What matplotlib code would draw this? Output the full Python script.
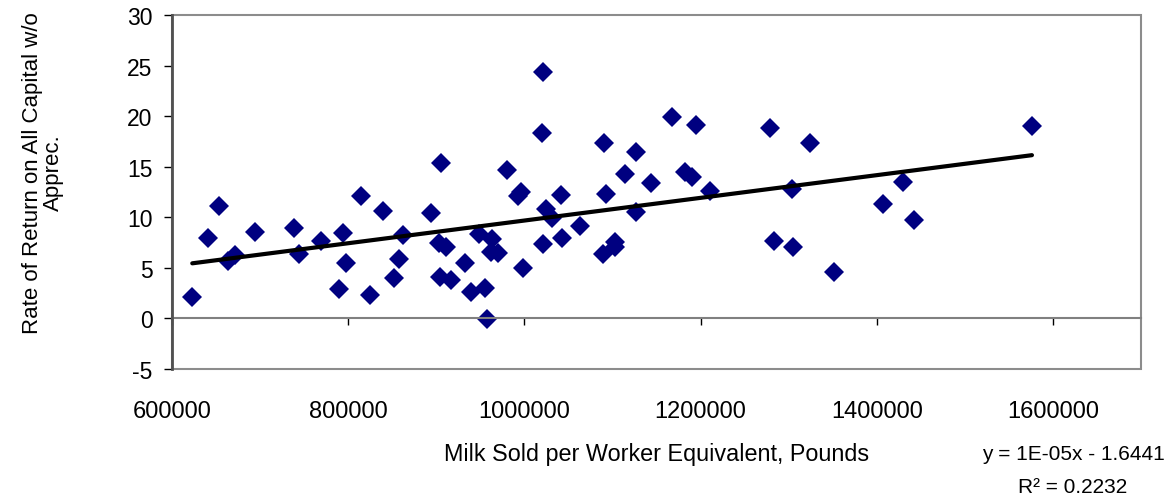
import numpy as np
from matplotlib import pyplot as plt
from matplotlib.patches import Rectangle

plt.rcParams['font.family'] = ['Liberation Sans', 'DejaVu Sans']
plt.rcParams['axes.unicode_minus'] = False

# milk sold per worker equivalent (lbs) and rate of return (%)
milk = [623000, 640800, 653600, 663100, 671400, 693800, 738400, 744100,
        768700, 794000, 797400, 789500, 814800, 825000, 839000, 851500,
        857400, 861700, 893500, 904900, 902900, 910900, 903700, 916200,
        932800, 939200, 948700, 955100, 957400, 962800, 961600, 969600,
        980100, 993000, 995700, 998300, 1020600, 1019500, 1024000, 1031200,
        1021700, 1041800, 1042500, 1062900, 1090200, 1092800, 1088700, 1102700,
        1102700, 1114800, 1127200, 1127200, 1144300, 1167300, 1182100, 1190800,
        1194900, 1210800, 1279300, 1303500, 1283100, 1304600, 1324700, 1351500,
        1407100, 1429800, 1441900, 1576200]
ror = [2.14, 7.94, 11.1, 5.63, 6.26, 8.53, 8.96, 6.39,
       7.68, 8.47, 5.44, 2.93, 12.06, 2.34, 10.61, 3.95,
       5.9, 8.27, 10.41, 15.36, 7.48, 7.02, 4.05, 3.79,
       5.5, 2.63, 8.37, 2.97, -0.1, 7.84, 6.59, 6.49,
       14.66, 12.12, 12.52, 4.97, 24.38, 18.32, 10.81, 9.92,
       7.38, 12.22, 7.97, 9.16, 17.36, 12.32, 6.33, 7.51,
       7.02, 14.27, 16.41, 10.48, 13.35, 19.93, 14.43, 14.0,
       19.11, 12.62, 18.82, 12.75, 7.64, 7.08, 17.30, 4.55,
       11.3, 13.51, 9.75, 19.05]

xticks = [600000, 800000, 1000000, 1200000, 1400000, 1600000]
yticks = [-5, 0, 5, 10, 15, 20, 25, 30]

x = np.array(milk, float)
y = np.array(ror, float)

fig = plt.figure(figsize=(11.72, 5.02), dpi=100)
ax = fig.add_axes([172/1172, 132/502, 969/1172, 354/502])

ax.plot(x, y, 'D', color='#000080', markersize=10, markeredgewidth=0)

# linear trendline
b, a = np.polyfit(x, y, 1)
tx = np.array([x.min(), x.max()])
ax.plot(tx, b*tx + a, color='black', linewidth=3, solid_capstyle='round')

ax.set_xlim(600000, 1700000)
ax.set_ylim(-5, 30)
ax.set_xticks(xticks)
ax.set_yticks(yticks)
ax.set_xticklabels([str(t) for t in xticks])

for s in ['top', 'right']:
    ax.spines[s].set_visible(False)
ax.spines['bottom'].set_position(('data', 0))
ax.spines['bottom'].set_color('#808080')
ax.spines['bottom'].set_linewidth(1.5)
ax.spines['left'].set_color('#505050')
ax.spines['left'].set_linewidth(2)
ax.spines['left'].set_zorder(5)
ax.add_patch(Rectangle((0, 0), 1, 1, transform=ax.transAxes, fill=False,
                       edgecolor='#8c8c8c', linewidth=1.5, clip_on=False))

ax.tick_params(axis='x', direction='out', length=5, width=1, color='black',
               pad=54, labelsize=17)
ax.tick_params(axis='y', direction='out', length=6, width=1, color='black',
               pad=8, labelsize=16.5)

ax.set_xlabel('Milk Sold per Worker Equivalent, Pounds', fontsize=16.8)
ax.xaxis.set_label_coords(0.5, -0.2076)

fig.text(43/1172, 1 - 173/502, 'Rate of Return on All Capital w/o\nApprec.',
         rotation=90, ha='center', va='center', multialignment='center',
         fontsize=16, linespacing=1.0)

fig.text(1073/1172, 1 - 455/502, 'y = 1E-05x - 1.6441', ha='center',
         va='center', fontsize=15)
fig.text(1073/1172, 1 - 488/502, 'R² = 0.2232', ha='center', va='center',
         fontsize=15)

plt.savefig('out.png', dpi=100)
